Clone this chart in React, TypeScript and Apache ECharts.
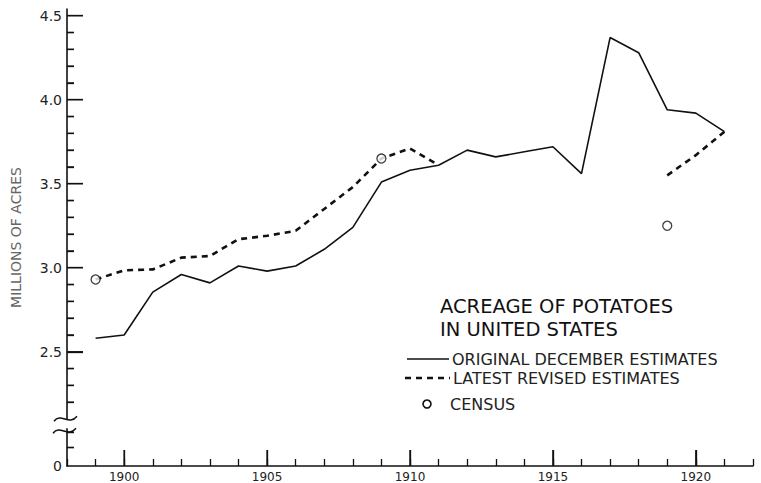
import React, { useEffect, useRef } from "react";
import * as echarts from "echarts";

const YEARS = [1899, 1900, 1901, 1902, 1903, 1904, 1905, 1906, 1907, 1908, 1909, 1910, 1911, 1912, 1913, 1914, 1915, 1916, 1917, 1918, 1919, 1920, 1921];
const ORIGINAL = [2.58, 2.6, 2.855, 2.96, 2.91, 3.01, 2.98, 3.01, 3.11, 3.24, 3.51, 3.58, 3.61, 3.7, 3.66, 3.69, 3.72, 3.56, 4.37, 4.28, 3.94, 3.92, 3.81];
const REVISED: (number | null)[] = [2.93, 2.985, 2.99, 3.06, 3.07, 3.17, 3.19, 3.22, 3.35, 3.48, 3.65, 3.71, 3.61, null, null, null, null, null, null, null, 3.55, 3.67, 3.81];
const CENSUS_YEARS = [1899, 1909, 1919];
const CENSUS_VALUES = [2.93, 3.65, 3.25];

const X_MIN = 1898;
const X_MAX = 1922;
const Y_MIN = 1.82; // shown as "0" below the axis break
const Y_MAX = 4.54;
const Y_BREAK = 2.11;
const Y_MAJOR = [2.5, 3.0, 3.5, 4.0, 4.5];
const Y_MINOR = [1.93, 2.02, 2.2, 2.3, 2.4, 2.6, 2.7, 2.8, 2.9, 3.1, 3.2, 3.3, 3.4, 3.6, 3.7, 3.8, 3.9, 4.1, 4.2, 4.3, 4.4];
const X_MAJOR = [1900, 1905, 1910, 1915, 1920];

const TITLE_LINES = ["ACREAGE OF POTATOES", "IN UNITED STATES"];
const LEGEND_LABELS = ["ORIGINAL DECEMBER ESTIMATES", "LATEST REVISED ESTIMATES", "CENSUS"];

const FONT = "DejaVu Sans";
const INK = "#111";

export default function App() {
  const ref = useRef<HTMLDivElement>(null);
  useEffect(() => {
    if (!ref.current) return;
    const chart = echarts.init(ref.current, null, { renderer: "svg" });

    const yTickData = [...Y_MAJOR.map((v) => [X_MIN, v, 16]), ...Y_MINOR.map((v) => [X_MIN, v, 7])];
    const xTickData = X_MAJOR.map((v) => [v, Y_MIN, 16]);
    const yBase = {
      type: "value" as const,
      min: Y_MIN,
      max: Y_MAX,
      position: "left" as const,
      splitLine: { show: false },
    };

    chart.setOption({
      animation: false,
      backgroundColor: "#fff",
      textStyle: { fontFamily: FONT },
      title: {
        text: TITLE_LINES.join("\n"),
        left: 440,
        top: 295,
        padding: 0,
        textStyle: { fontFamily: FONT, fontSize: 19.5, lineHeight: 23, fontWeight: "normal", color: INK },
      },
      grid: { left: 67, right: 8, top: 9, bottom: 16 },
      xAxis: [
        {
          type: "value",
          min: X_MIN,
          max: X_MAX,
          interval: 1,
          axisLine: { show: true, lineStyle: { color: INK, width: 1.5 } },
          axisTick: { show: true, inside: true, length: 7, lineStyle: { color: INK, width: 1.3 } },
          axisLabel: {
            margin: 5,
            color: "#222",
            fontFamily: FONT,
            fontSize: 12,
            formatter: (v: number) => (v % 5 === 0 ? String(v) : ""),
          },
          splitLine: { show: false },
        },
        {
          type: "value",
          min: X_MIN,
          max: X_MAX,
          position: "bottom",
          axisLine: { show: false },
          axisTick: { show: true, inside: true, length: 16, customValues: X_MAJOR, lineStyle: { color: INK, width: 1.3 } },
          axisLabel: { show: false },
          splitLine: { show: false },
        },
      ],
      yAxis: [
        {
          ...yBase,
          name: "MILLIONS OF ACRES",
          nameLocation: "middle",
          nameRotate: 90,
          nameGap: 44,
          nameTextStyle: { fontFamily: FONT, fontSize: 14, color: "#666" },
          axisLine: { show: true, lineStyle: { color: INK, width: 1.6 } },
          axisTick: { show: true, inside: true, length: 16, customValues: Y_MAJOR, lineStyle: { color: INK, width: 1.3 } },
          axisLabel: {
            show: true,
            margin: 5,
            color: "#222",
            fontFamily: FONT,
            fontSize: 14,
            customValues: [Y_MIN, ...Y_MAJOR],
            formatter: (v: number) => (Math.abs(v - Y_MIN) < 1e-6 ? "0" : v.toFixed(1)),
          },
        },
        {
          ...yBase,
          axisLine: { show: false },
          axisTick: { show: true, inside: true, length: 7, customValues: Y_MINOR, lineStyle: { color: INK, width: 1.3 } },
          axisLabel: { show: false },
        },
      ],
      series: [
        {
          name: "yTicks",
          type: "custom",
          silent: true,
          clip: false,
          z: 10,
          data: yTickData,
          encode: { x: 0, y: 1 },
          renderItem: (_params: any, api: any) => {
            const p = api.coord([api.value(0), api.value(1)]);
            const len = api.value(2);
            return {
              type: "rect",
              shape: { x: p[0], y: p[1] - 0.7, width: len, height: 1.4 },
              style: { fill: INK },
            };
          },
        },
        {
          name: "xTicks",
          type: "custom",
          silent: true,
          clip: false,
          z: 10,
          data: xTickData,
          encode: { x: 0, y: 1 },
          renderItem: (_params: any, api: any) => {
            const p = api.coord([api.value(0), api.value(1)]);
            const len = api.value(2);
            return {
              type: "rect",
              shape: { x: p[0] - 0.7, y: p[1] - len, width: 1.4, height: len },
              style: { fill: INK },
            };
          },
        },
        {
          name: "axisBreak",
          type: "custom",
          silent: true,
          clip: false,
          z: 20,
          data: [[X_MIN, Y_BREAK]],
          encode: { x: 0, y: 1 },
          renderItem: (_params: any, api: any) => {
            const p = api.coord([api.value(0), api.value(1)]);
            return {
              type: "group",
              x: p[0],
              y: p[1],
              children: [
                { type: "rect", shape: { x: -7, y: 2, width: 14, height: 9 }, style: { fill: "#fff" } },
                {
                  type: "bezierCurve",
                  shape: { x1: -13, y1: 4, cpx1: -6, cpy1: -5, cpx2: 2, cpy2: 9, x2: 10, y2: -1 },
                  style: { stroke: INK, lineWidth: 1.5, fill: null },
                },
                {
                  type: "bezierCurve",
                  shape: { x1: -14, y1: 16, cpx1: -7, cpy1: 7, cpx2: 1, cpy2: 21, x2: 9, y2: 11 },
                  style: { stroke: INK, lineWidth: 1.5, fill: null },
                },
              ],
            };
          },
        },
        {
          name: LEGEND_LABELS[0],
          type: "line",
          data: YEARS.map((y, i) => [y, ORIGINAL[i]]),
          showSymbol: false,
          lineStyle: { color: INK, width: 1.6 },
          z: 3,
        },
        {
          name: LEGEND_LABELS[1],
          type: "line",
          data: YEARS.map((y, i) => [y, REVISED[i] == null ? "-" : REVISED[i]]),
          showSymbol: false,
          connectNulls: false,
          lineStyle: { color: INK, width: 2.6, type: [6, 5] },
          z: 3,
        },
        {
          name: LEGEND_LABELS[2],
          type: "scatter",
          data: CENSUS_YEARS.map((y, i) => [y, CENSUS_VALUES[i]]),
          symbol: "circle",
          symbolSize: 9,
          itemStyle: { color: "#fff", borderColor: INK, borderWidth: 1.3 },
          z: 5,
        },
      ],
      graphic: [
        // legend
        { type: "line", shape: { x1: 407, y1: 359, x2: 449, y2: 359 }, style: { stroke: INK, lineWidth: 1.6 } },
        { type: "text", x: 452, y: 359, style: { text: LEGEND_LABELS[0], font: `16px "${FONT}"`, fill: "#222", verticalAlign: "middle" } },
        { type: "line", shape: { x1: 405, y1: 378, x2: 450, y2: 378 }, style: { stroke: INK, lineWidth: 2.6, lineDash: [6, 5] } },
        { type: "text", x: 453, y: 378, style: { text: LEGEND_LABELS[1], font: `16px "${FONT}"`, fill: "#222", verticalAlign: "middle" } },
        { type: "circle", shape: { cx: 427, cy: 404, r: 4 }, style: { fill: "#fff", stroke: INK, lineWidth: 1.6 } },
        { type: "text", x: 450, y: 404, style: { text: LEGEND_LABELS[2], font: `16px "${FONT}"`, fill: "#222", verticalAlign: "middle" } },
      ],
    });
    return () => chart.dispose();
  }, []);
  return <div ref={ref} style={{ position: "fixed", left: 0, top: 0, width: 761, height: 483, background: "#fff" }} />;
}
